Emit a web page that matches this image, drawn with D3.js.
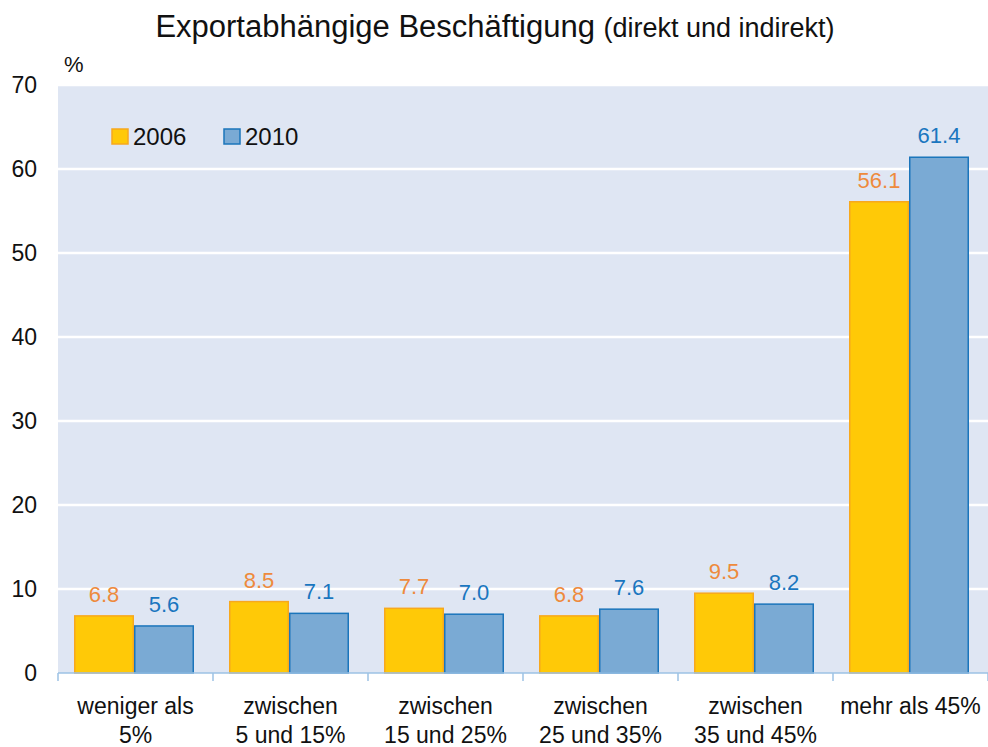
<!DOCTYPE html>
<html>
<head>
<meta charset="utf-8">
<script src="https://cdn.jsdelivr.net/npm/d3@7"></script>
<style>
  body { margin: 0; background: #fff; }
  text { font-family: "Liberation Sans", Arial, sans-serif; }
</style>
</head>
<body>
<div id="chart-area"></div>
<script>
// Daten
const categories = [
  ["weniger als", "5%"],
  ["zwischen", "5 und 15%"],
  ["zwischen", "15 und 25%"],
  ["zwischen", "25 und 35%"],
  ["zwischen", "35 und 45%"],
  ["mehr als 45%"]
];
const years = ["2006", "2010"];
const values2006 = [6.8, 8.5, 7.7, 6.8, 9.5, 56.1];
const values2010 = [5.6, 7.1, 7.0, 7.6, 8.2, 61.4];
const yTicks = [0, 10, 20, 30, 40, 50, 60, 70];

const W = 988, H = 747;
const margin = { top: 85, right: 0, bottom: 74, left: 58 };
const width = W - margin.left - margin.right;
const height = H - margin.top - margin.bottom;

const fill = { "2006": "#ffc907", "2010": "#7aaad4" };
const stroke = { "2006": "#f7a81e", "2010": "#1b75bb" };
const labelColor = { "2006": "#ee8a3c", "2010": "#1a76bf" };

const svg = d3.select("#chart-area")
  .append("svg")
  .attr("width", W)
  .attr("height", H);

// Titel
const title = svg.append("text")
  .attr("x", 495)
  .attr("y", 37)
  .attr("text-anchor", "middle")
  .attr("fill", "#111");
title.append("tspan").style("font-size", "31px").text("Exportabhängige Beschäftigung ");
title.append("tspan").style("font-size", "27px").text("(direkt und indirekt)");

svg.append("text")
  .attr("x", 64)
  .attr("y", 72)
  .style("font-size", "22px")
  .attr("fill", "#111")
  .text("%");

const g = svg.append("g")
  .attr("transform", `translate(${margin.left}, ${margin.top})`);

// Skalen
const x0 = d3.scaleBand().domain(d3.range(categories.length)).range([0, width]);
const x1 = d3.scaleBand().domain(years).range([16, 136]);
const y = d3.scaleLinear().domain([0, 70]).range([height, 0]);

// Hintergrund
g.append("rect")
  .attr("width", width)
  .attr("height", height)
  .attr("fill", "#dfe6f3");

// Gitterlinien
g.selectAll(".grid")
  .data(yTicks.filter(d => d > 0))
  .enter().append("line")
  .attr("x1", 0).attr("x2", width)
  .attr("y1", d => y(d)).attr("y2", d => y(d))
  .attr("stroke", "#fff")
  .attr("stroke-width", 2.5);

// Y-Achse Beschriftungen
svg.append("g")
  .selectAll("text")
  .data(yTicks)
  .enter().append("text")
  .attr("x", 37)
  .attr("y", d => margin.top + y(d) + 8)
  .attr("text-anchor", "end")
  .style("font-size", "23px")
  .attr("fill", "#111")
  .text(d => d);

// Balken
const series = years.map(yr => ({ key: yr, values: yr === "2006" ? values2006 : values2010 }));
const data = categories.map((c, i) => series.map(s => ({ key: s.key, value: s.values[i] })));

const group = g.selectAll(".cat")
  .data(data)
  .enter().append("g")
  .attr("class", "cat")
  .attr("transform", (d, i) => `translate(${x0(i)}, 0)`);

group.selectAll("rect")
  .data(d => d)
  .enter().append("rect")
  .attr("x", d => x1(d.key) + 0.75)
  .attr("width", x1.bandwidth() - 1.5)
  .attr("y", d => y(d.value))
  .attr("height", d => height - y(d.value))
  .attr("fill", d => fill[d.key])
  .attr("stroke", d => stroke[d.key])
  .attr("stroke-width", 1.5);

group.selectAll(".val")
  .data(d => d)
  .enter().append("text")
  .attr("class", "val")
  .attr("x", d => x1(d.key) + x1.bandwidth() / 2)
  .attr("y", d => y(d.value) - 14)
  .attr("text-anchor", "middle")
  .style("font-size", "22px")
  .attr("fill", d => labelColor[d.key])
  .text(d => d.value.toFixed(1));

// X-Achse
const axis = g.append("g").attr("transform", `translate(0, ${height})`);
axis.append("line")
  .attr("x1", 0).attr("x2", width)
  .attr("stroke", "#9cc2e5").attr("stroke-width", 1.5);
axis.selectAll(".tick")
  .data(d3.range(categories.length + 1))
  .enter().append("line")
  .attr("x1", i => i * x0.bandwidth()).attr("x2", i => i * x0.bandwidth())
  .attr("y1", 0).attr("y2", 8)
  .attr("stroke", "#9cc2e5").attr("stroke-width", 1.5);

const catLabel = axis.selectAll(".catlabel")
  .data(categories)
  .enter().append("text")
  .attr("class", "catlabel")
  .attr("text-anchor", "middle")
  .style("font-size", "23px")
  .attr("fill", "#111");
catLabel.selectAll("tspan")
  .data((d, i) => d.map(line => ({ line, i })))
  .enter().append("tspan")
  .attr("x", d => x0(d.i) + x0.bandwidth() / 2)
  .attr("y", (d, j) => 41 + j * 29)
  .text(d => d.line);

// Legende
const legend = svg.append("g")
  .attr("transform", "translate(112, 129)");
const legendItem = legend.selectAll(".legendItem")
  .data(years)
  .enter().append("g")
  .attr("transform", (d, i) => `translate(${i * 112}, 0)`);
legendItem.append("rect")
  .attr("width", 16).attr("height", 15)
  .attr("fill", d => fill[d])
  .attr("stroke", d => stroke[d])
  .attr("stroke-width", 1.5);
legendItem.append("text")
  .attr("x", 21).attr("y", 16)
  .style("font-size", "24px")
  .attr("fill", "#111")
  .text(d => d);
</script>
</body>
</html>
